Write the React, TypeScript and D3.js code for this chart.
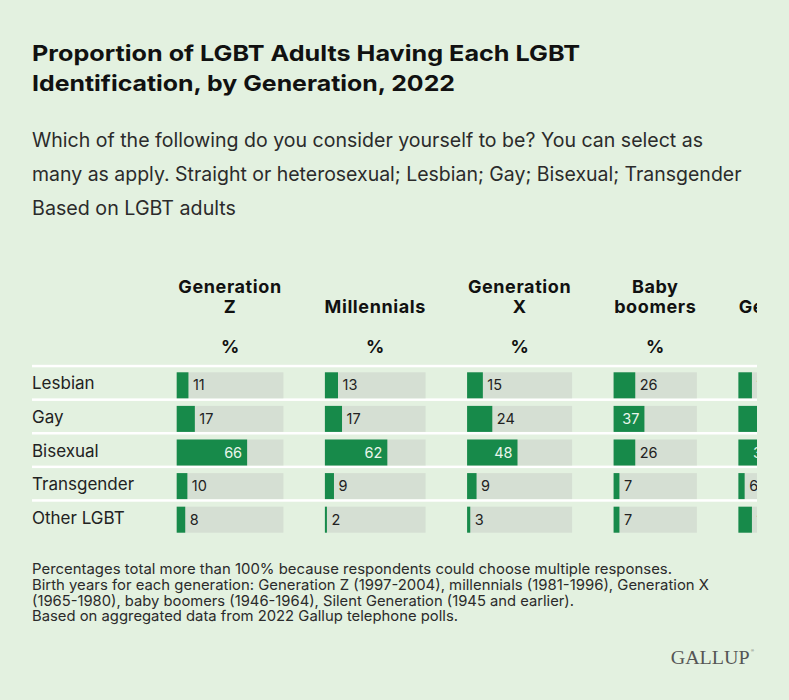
import React from "react";
import * as d3 from "d3";

// Gallup 2022, LGBT identification by generation (share of LGBT adults, %)
const identities = ["Lesbian", "Gay", "Bisexual", "Transgender", "Other LGBT"];
const generations = ["Generation Z", "Millennials", "Generation X", "Baby boomers", "Silent Generation"];
const headerLines = [["Generation", "Z"], ["Millennials"], ["Generation", "X"], ["Baby", "boomers"], ["Silent", "Generation"]];

const genZ = [11, 17, 66, 10, 8];
const millennials = [13, 17, 62, 9, 2];
const genX = [15, 24, 48, 9, 3];
const boomers = [26, 37, 26, 7, 7];
const silent = [13, 41, 36, 6, 13];

const series = [genZ, millennials, genX, boomers, silent];

const titleLines = ["Proportion of LGBT Adults Having Each LGBT", "Identification, by Generation, 2022"];
const subtitleLines = [
  "Which of the following do you consider yourself to be? You can select as",
  "many as apply. Straight or heterosexual; Lesbian; Gay; Bisexual; Transgender",
  "Based on LGBT adults",
];
const noteLines = [
  "Percentages total more than 100% because respondents could choose multiple responses.",
  "Birth years for each generation: Generation Z (1997-2004), millennials (1981-1996), Generation X",
  "(1965-1980), baby boomers (1946-1964), Silent Generation (1945 and earlier).",
  "Based on aggregated data from 2022 Gallup telephone polls.",
];

// layout (column width follows the header text, like an html table)
const W = 789;
const H = 700;
const left = 32;
const colWidths = [106.7, 100.7, 105, 83.3, 104];
const colGap = 41.5;
const firstCol = 176.7;
const clipRight = 757;
const rowTop = 366.3;
const rowStep = 33.6;
const barH = 26;

const titleWidths = [548, 423];
const subtitleWidths = [671, 709.5, 204];
const noteWidths = [640, 677, 542, 426];

const BG = "#e3f1e0";
const TRACK = "#d5dfd3";
const GREEN = "#178a4a";
const FONT = "Inter, 'Noto Sans', sans-serif";

export default function App() {
  const colX = colWidths.map((_, i) => firstCol + d3.sum(colWidths.slice(0, i)) + i * colGap);

  const rowY = d3.scaleBand<string>()
    .domain(identities)
    .range([rowTop, rowTop + rowStep * identities.length]);

  return (
    <div style={{ width: W, height: H, background: BG }}>
      <style>{`body{margin:0;background:${BG}}`}</style>
      <svg width={W} height={H} style={{ display: "block", fontFamily: FONT }}>
        <rect width={W} height={H} fill={BG} />

        {titleLines.map((t, i) => (
          <text key={t} x={left} y={61 + i * 29.5} fontSize={22} fontWeight={700} fill="#111"
            textLength={titleWidths[i]} lengthAdjust="spacingAndGlyphs">{t}</text>
        ))}

        {subtitleLines.map((t, i) => (
          <text key={t} x={left} y={147 + i * 34} fontSize={19.5} fill="#2b2b2b"
            textLength={subtitleWidths[i]} lengthAdjust="spacingAndGlyphs">{t}</text>
        ))}

        <defs>
          <clipPath id="tableClip">
            <rect x={0} y={250} width={clipRight} height={300} />
          </clipPath>
        </defs>

        <g clipPath="url(#tableClip)">
          {/* row separators */}
          {identities.map(d => (
            <rect key={"sep" + d} x={left} y={(rowY(d) ?? 0) - 1.5} width={clipRight - left} height={2.5} fill="#ffffff" />
          ))}

          {/* row labels */}
          {identities.map(d => (
            <text key={"lab" + d} x={left} y={(rowY(d) ?? 0) + 4 + barH / 2 + 6} fontSize={17} fill="#222">{d}</text>
          ))}

          {generations.map((g, gi) => {
            const w = colWidths[gi];
            const x0 = colX[gi];
            const cx = x0 + w / 2;
            const xs = d3.scaleLinear().domain([0, 100]).range([0, w]);
            const lines = headerLines[gi];
            return (
              <g key={g}>
                {lines.map((ln, li) => (
                  <text key={ln} x={cx} y={313.3 - (lines.length - 1 - li) * 20} textAnchor="middle"
                    fontSize={18} letterSpacing={0.6} fontWeight={700} fill="#111">{ln}</text>
                ))}
                <text x={cx} y={353.3} textAnchor="middle" fontSize={18} fontWeight={700} fill="#111">%</text>

                {identities.map((d, di) => {
                  const v = series[gi][di];
                  const y = (rowY(d) ?? 0) + 6;
                  const bw = xs(v);
                  const inside = v >= 30;
                  return (
                    <g key={d}>
                      <rect x={x0} y={y} width={w} height={barH} fill={TRACK} />
                      <rect x={x0} y={y} width={bw} height={barH} fill={GREEN} />
                      <text
                        x={inside ? x0 + bw - 5 : x0 + bw + 4.5}
                        y={y + barH / 2 + 5}
                        textAnchor={inside ? "end" : "start"}
                        fontSize={14.5}
                        fill={inside ? "#eaf6ec" : "#222"}
                      >{v}</text>
                    </g>
                  );
                })}
              </g>
            );
          })}
        </g>

        {noteLines.map((t, i) => (
          <text key={t} x={left} y={574.3 + i * 15.6} fontSize={14.5} fill="#2b2b2b"
            textLength={noteWidths[i]} lengthAdjust="spacingAndGlyphs">{t}</text>
        ))}

        <text x={670.7} y={664.3} fontFamily="'Liberation Serif', 'DejaVu Serif', serif" fontSize={18.5}
          fill="#555" textLength={79} lengthAdjust="spacingAndGlyphs">GALLUP</text>
        <text x={751} y={652} fontFamily="'Liberation Sans', sans-serif" fontSize={4} fill="#555">®</text>
      </svg>
    </div>
  );
}
